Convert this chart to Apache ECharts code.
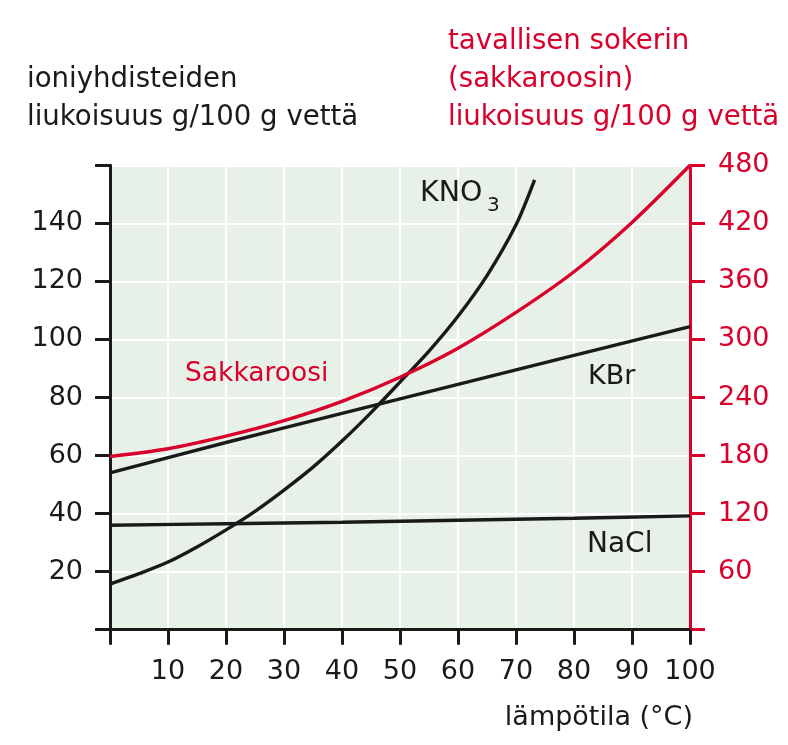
<!DOCTYPE html>
<html>
<head>
<meta charset="utf-8">
<script src="https://cdn.jsdelivr.net/npm/echarts@6/dist/echarts.min.js"></script>
<style>html,body{margin:0;padding:0;background:#fff}#c{width:788px;height:745px}</style>
</head>
<body>
<div id="c"></div>
<script>
// Data (temperature °C, solubility g/100 g water)
const kno3Temps = [0, 5, 10, 15, 20, 25, 30, 35, 40, 45, 50, 55, 60, 65, 70, 73.2];
const kno3Vals  = [15.7, 19.3, 23.3, 28.5, 34.4, 40.8, 48.1, 56, 65, 74.8, 85.3, 96, 108, 122, 139.5, 155];
const kbrTemps  = [0, 20, 40, 60, 80, 100];
const kbrVals   = [54, 64.5, 74.5, 84.5, 94.5, 104.4];
const naclTemps = [0, 20, 40, 60, 80, 100];
const naclVals  = [36, 36.5, 37, 37.7, 38.4, 39.2];
const sucroseTemps = [0, 10, 20, 30, 40, 50, 60, 70, 80, 90, 100];
const sucroseVals  = [179, 187, 200, 216, 236, 261, 291, 328, 370, 421, 480];

const leftTitle = ['ioniyhdisteiden', 'liukoisuus g/100 g vettä'];
const rightTitle = ['tavallisen sokerin', '(sakkaroosin)', 'liukoisuus g/100 g vettä'];
const xTitle = 'lämpötila (°C)';

const BLACK = '#1a1a1a';
const RED = '#d9002c';
const FONT = '"DejaVu Sans", sans-serif';
const FS = 27;
const TFS = 27.6;

const pairs = (t, v) => t.map((x, i) => [x, v[i]]);

const chart = echarts.init(document.getElementById('c'), null, {renderer: 'canvas'});

function txt(text, x, y, color, align, size) {
  return {
    type: 'text', x: x, y: y, z: 100,
    style: { text: text, fill: color, font: (size || FS) + 'px ' + FONT, align: align || 'left', verticalAlign: 'middle' }
  };
}

const lineBase = { type: 'line', smooth: 0.3, symbol: 'none', z: 3 };

chart.setOption({
  animation: false,
  grid: { left: 110, right: 98, top: 165.3, bottom: 115.3, show: true, backgroundColor: '#e8f1e8', borderWidth: 0 },
  xAxis: {
    type: 'value', min: 0, max: 100, interval: 10,
    axisLine: { onZero: false, lineStyle: { color: BLACK, width: 3 } },
    axisTick: { show: true, length: 15, lineStyle: { color: BLACK, width: 3 } },
    axisLabel: { color: BLACK, fontSize: FS, fontFamily: FONT, margin: 29,
      formatter: v => v === 0 ? '' : String(v) },
    splitLine: { show: true, lineStyle: { color: '#ffffff', width: 2 } }
  },
  yAxis: [{
    type: 'value', min: 0, max: 160, interval: 20, position: 'left',
    axisLine: { show: true, lineStyle: { color: BLACK, width: 3 } },
    axisTick: { show: true, length: 15, lineStyle: { color: BLACK, width: 3 } },
    axisLabel: { color: BLACK, fontSize: FS, fontFamily: FONT, margin: 27,
      formatter: v => (v === 0 || v === 160) ? '' : String(v) },
    splitLine: { show: true, lineStyle: { color: '#ffffff', width: 2 } }
  }, {
    type: 'value', min: 0, max: 480, interval: 60, position: 'right',
    axisLine: { show: true, lineStyle: { color: RED, width: 3 } },
    axisTick: { show: true, length: 15, lineStyle: { color: RED, width: 3 } },
    axisLabel: { color: RED, fontSize: FS, fontFamily: FONT, margin: 28,
      formatter: v => v === 0 ? '' : String(v) },
    splitLine: { show: false }
  }],
  series: [
    Object.assign({}, lineBase, { name: 'NaCl', data: pairs(naclTemps, naclVals), lineStyle: { color: BLACK, width: 3.4 } }),
    Object.assign({}, lineBase, { name: 'KBr', data: pairs(kbrTemps, kbrVals), lineStyle: { color: BLACK, width: 3.4 } }),
    Object.assign({}, lineBase, { name: 'KNO3', data: pairs(kno3Temps, kno3Vals), lineStyle: { color: BLACK, width: 3.4 } }),
    Object.assign({}, lineBase, { name: 'Sakkaroosi', yAxisIndex: 1, data: pairs(sucroseTemps, sucroseVals), lineStyle: { color: RED, width: 3.4 } })
  ],
  graphic: [
    txt(leftTitle[0], 27, 80, BLACK, 'left', TFS),
    txt(leftTitle[1], 27, 118, BLACK, 'left', TFS),
    txt(rightTitle[0], 448, 42, RED, 'left', TFS),
    txt(rightTitle[1], 448, 80, RED, 'left', TFS),
    txt(rightTitle[2], 448, 118, RED, 'left', TFS),
    txt(xTitle, 693, 718, BLACK, 'right'),
    txt('Sakkaroosi', 185, 374, RED, 'left', 26.5),
    txt('KBr', 588, 377, BLACK),
    txt('NaCl', 587, 545, BLACK, 'left', 28),
    txt('KNO', 420, 194, BLACK, 'left', 28.5),
    txt('3', 487, 206, BLACK, 'left', 20)
  ]
});
</script>
</body>
</html>
